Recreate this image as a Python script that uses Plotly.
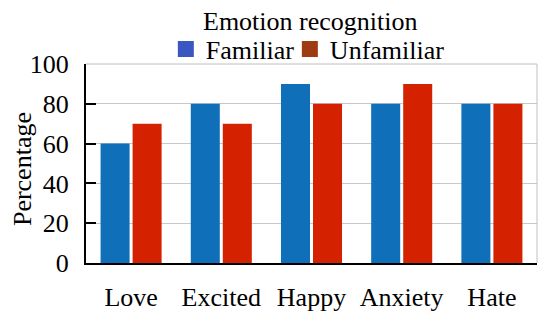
import plotly.graph_objects as go

categories = ["Love", "Excited", "Happy", "Anxiety", "Hate"]
familiar = [60, 80, 90, 80, 80]
unfamiliar = [70, 70, 80, 90, 80]
y_ticks = [0, 20, 40, 60, 80, 100]

FONT = "Liberation Serif"
BLUE = "#0f6fb8"
RED = "#d42200"
BLUE_LEG = "#3a56c0"
RED_LEG = "#a03a10"

fig = go.Figure()
fig.add_trace(go.Bar(x=categories, y=familiar, name="Familiar", offsetgroup="f",
                     marker=dict(color=BLUE, line=dict(width=0)), showlegend=False))
fig.add_trace(go.Bar(x=categories, y=unfamiliar, name="Unfamiliar", offsetgroup="u",
                     marker=dict(color=RED, line=dict(width=0)), showlegend=False))
# legend entries
fig.add_trace(go.Bar(x=[categories[0]], y=[None], name="Familiar", offsetgroup="f",
                     legend="legend",
                     marker=dict(color=BLUE_LEG, line=dict(color=BLUE_LEG, width=4))))
fig.add_trace(go.Bar(x=[categories[0]], y=[None], name="Unfamiliar", offsetgroup="u",
                     legend="legend2",
                     marker=dict(color=RED_LEG, line=dict(color=RED_LEG, width=4))))

leg_common = dict(orientation="h", xanchor="left", y=1.075, yanchor="middle",
                  font=dict(family=FONT, size=26), itemwidth=30,
                  bgcolor="rgba(0,0,0,0)")

fig.update_layout(
    width=550, height=322,
    margin=dict(l=86, r=13, t=64, b=59, autoexpand=False),
    paper_bgcolor="white", plot_bgcolor="white",
    font=dict(family=FONT, size=26, color="black"),
    barmode="group", bargap=0.29, bargroupgap=0.094,
    showlegend=True,
    legend=dict(x=0.177, **leg_common),
    legend2=dict(x=0.452, **leg_common),
    annotations=[
        dict(text="Emotion recognition", x=0.497, xref="paper", xanchor="center",
             y=1.216, yref="paper", yanchor="middle", showarrow=False,
             font=dict(family=FONT, size=26)),
        dict(text="Percentage", x=-0.1419, xref="paper", xanchor="center",
             y=0.472, yref="paper", yanchor="middle", textangle=-90, showarrow=False,
             font=dict(family=FONT, size=26)),
    ],
    shapes=[
        dict(type="line", xref="paper", yref="paper", x0=1, x1=1, y0=0, y1=1,
             line=dict(color="#c0c0c0", width=1)),
        dict(type="line", xref="paper", yref="paper", x0=0, x1=1, y0=1, y1=1,
             line=dict(color="#c0c0c0", width=1)),
    ],
)
fig.update_yaxes(range=[0, 100], tickvals=y_ticks, ticks="inside", ticklen=10,
                 tickcolor="black", tickwidth=2, showline=True, linecolor="black",
                 linewidth=2, showgrid=True, gridcolor="#c8c8c8", gridwidth=1,
                 zeroline=False, ticklabelstandoff=10, automargin=False,
                 tickfont=dict(family=FONT, size=26))
fig.update_xaxes(showline=True, linecolor="black", linewidth=2, ticks="",
                 ticklabelstandoff=10, tickfont=dict(family=FONT, size=26), showgrid=False,
                 automargin=False)

fig.write_html("out.html", config={"displayModeBar": False},
               post_script="document.body.style.margin='0';")
